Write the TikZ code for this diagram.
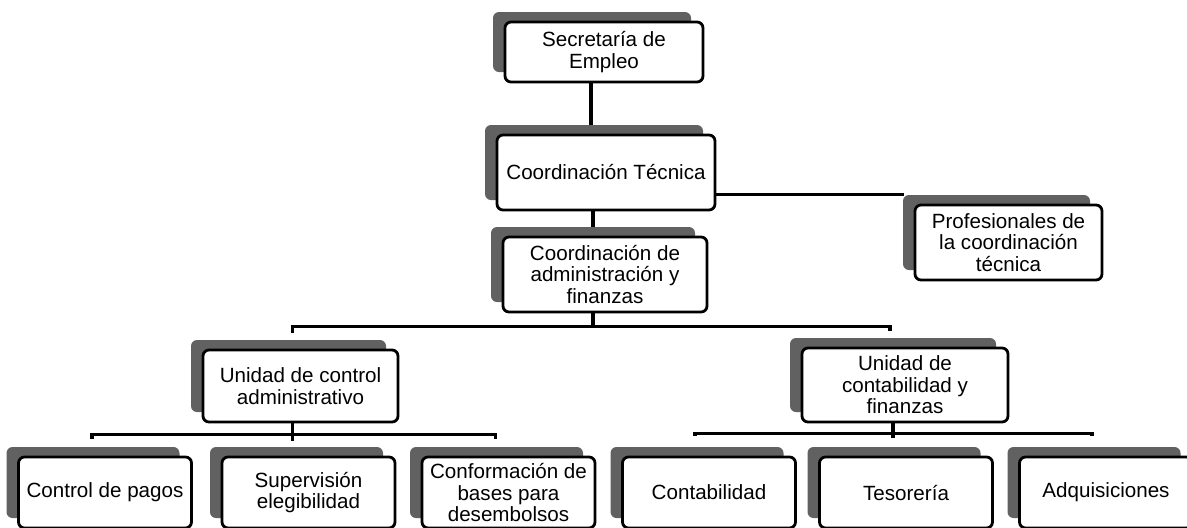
\documentclass[tikz,border=0pt]{standalone}
\usepackage{fontspec}
\setmainfont{Liberation Sans}
\usetikzlibrary{shadows,backgrounds}
\tikzset{
  unit/.style={draw=black, line width=1.4pt, rounded corners=3pt, fill=white,
    align=center, inner sep=0pt, font=\fontsize{10.3}{10.75}\selectfont,
    general shadow={shadow xshift=-6pt, shadow yshift=5pt, fill=black!62}},
  leaf/.style={unit, minimum width=86.5pt, minimum height=35.5pt},
  conn/.style={line width=1.6pt}
}

\begin{document}
\begin{tikzpicture}[x=0.5pt, y=-0.5pt]
	%%%%% START %%%%%
	\useasboundingbox (0, 0) rectangle (1187, 527);

	% top levels
	\node[unit, minimum width=99pt, minimum height=30pt] (sec) at (604, 52) {Secretaría de\\Empleo};
	\node[unit, minimum width=109pt, minimum height=37.5pt] (ct) at (606, 172.5) {Coordinación Técnica};
	\node[unit, minimum width=93.5pt, minimum height=37.5pt] (prof) at (1008.5, 242.5) {Profesionales de\\la coordinación\\técnica};
	\node[unit, minimum width=102pt, minimum height=37.5pt] (admin) at (605, 274.5) {Coordinación de\\administración y\\finanzas};

	% units
	\node[unit, minimum width=97.5pt, minimum height=36pt] (uca) at (300.5, 386) {Unidad de control\\administrativo};
	\node[unit, minimum width=103pt, minimum height=37pt] (ucf) at (905, 385) {Unidad de\\contabilidad y\\finanzas};

	% bottom row
	\node[leaf] (cp) at (105, 492.5) {Control de pagos};
	\node[leaf] (se) at (308.5, 492.5) {Supervisión\\elegibilidad};
	\node[leaf] (cb) at (508.5, 492.5) {Conformación de\\bases para\\desembolsos};
	\node[leaf] (co) at (709, 492.5) {Contabilidad};
	\node[leaf] (te) at (906, 492.5) {Tesorería};
	\node[leaf] (ad) at (1106, 492.5) {Adquisiciones};

	\begin{scope}[on background layer]
		\draw[conn] ([xshift=-6.5pt]sec.south) -- ([xshift=-6.5pt]sec.south |- ct.north);
		\coordinate (pj) at ([xshift=-5pt]prof.west);
		\draw[conn] ([yshift=-11pt]ct.east) -- ([yshift=-11pt]ct.east -| pj);
		\draw[conn] ([xshift=-6.5pt]ct.south) -- ([xshift=-6.5pt]ct.south |- admin.north);

		\draw[conn] ([xshift=-6pt]admin.south) -- ++(0, -6.5pt) coordinate (bara);
		\draw[conn] ([xshift=-4pt, yshift=8pt]uca.north) |- (bara) -| ([xshift=-7.5pt, yshift=8pt]ucf.north);

		\draw[conn] ([xshift=-4pt]uca.south) -- ++(0, -5.5pt) coordinate (barb) -- ++(0, -3.5pt);
		\draw[conn] ([xshift=-6.5pt, yshift=8.5pt]cp.north) |- (barb) -| ([xshift=-6.5pt, yshift=8.5pt]cb.north);

		\draw[conn] ([xshift=-6pt]ucf.south) -- ++(0, -5pt) coordinate (barc) -- ++(0, -2.5pt);
		\draw[conn] ([xshift=-7pt, yshift=10pt]co.north) |- (barc) -| ([xshift=-7pt, yshift=10pt]ad.north);
	\end{scope}
	%%%%% END %%%%%
\end{tikzpicture}
\end{document}
